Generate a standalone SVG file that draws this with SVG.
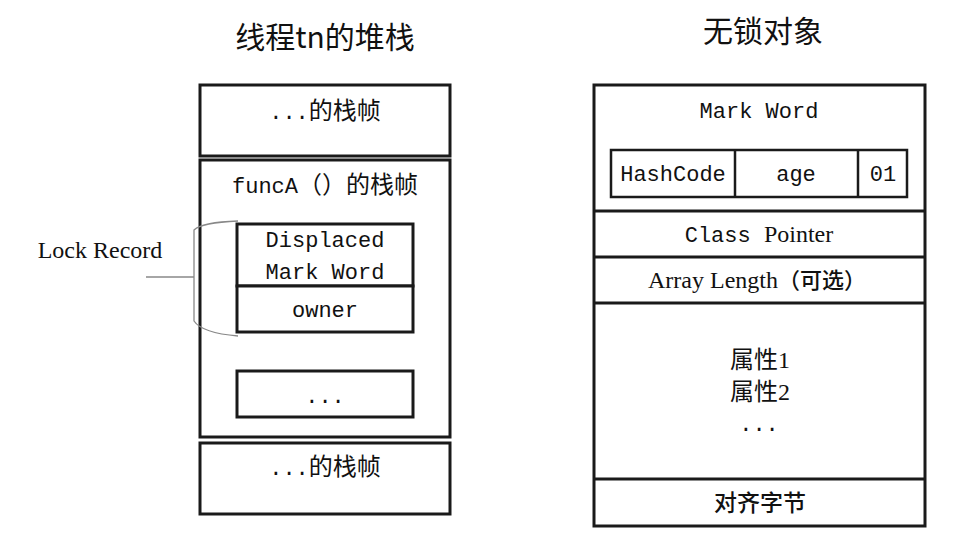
<svg xmlns="http://www.w3.org/2000/svg" width="966" height="540" viewBox="0 0 966 540">
<style>
.box{fill:#fff;stroke:#1a1a1a;stroke-width:3}
.ibox{fill:none;stroke:#1a1a1a;stroke-width:2.5}
.mono{font-family:"Liberation Mono","Noto Sans CJK SC",monospace;font-size:22px;fill:#111;text-anchor:middle}
.serif{font-family:"Liberation Serif","Noto Sans CJK SC",serif;font-size:24px;fill:#111;text-anchor:middle}
.title{font-family:"Noto Sans CJK SC",sans-serif;font-size:30px;fill:#111;text-anchor:middle}
.cjk{font-family:"Noto Sans CJK SC",sans-serif;font-size:24px;fill:#111}
.pad{font-family:"Noto Sans CJK SC",sans-serif;font-size:23px;font-weight:500;fill:#111;text-anchor:middle}
.thin{fill:none;stroke:#888;stroke-width:1.3}
</style>
<rect width="966" height="540" fill="#fff"/>
<text class="title" x="325" y="48">线程tn的堆栈</text>
<text class="title" x="763" y="42">无锁对象</text>

<g id="frame-top">
<rect class="box" x="200" y="85" width="250" height="71"/>
<text class="mono" x="325" y="119">...<tspan class="cjk">的栈帧</tspan></text>
</g>
<g id="frame-funcA">
<rect class="box" x="200" y="160" width="250" height="277"/>
<text class="mono" x="325" y="193">funcA<tspan class="cjk">（）的栈帧</tspan></text>
</g>
<g id="lock-record-displaced">
<rect class="box" x="237" y="224" width="176" height="62"/>
<text class="mono" x="325" y="247">Displaced</text>
<text class="mono" x="325" y="279">Mark Word</text>
</g>
<g id="lock-record-owner">
<rect class="box" x="237" y="286" width="176" height="46"/>
<text class="mono" x="325" y="317">owner</text>
</g>
<g id="frame-more">
<rect class="box" x="237" y="371" width="176" height="46"/>
<text class="mono" x="325" y="403">...</text>
</g>
<g id="frame-bottom">
<rect class="box" x="200" y="443" width="250" height="71"/>
<text class="mono" x="325" y="475">...<tspan class="cjk">的栈帧</tspan></text>
</g>

<g id="lock-record-label">
<text class="serif" x="100" y="258">Lock Record</text>
</g>
<g id="connectors">
<path class="thin" d="M238,221 C215,222 200,224 194,230 L194,321 C200,330 215,334 238,336"/>
<line class="thin" x1="146" y1="277" x2="194" y2="277"/>
</g>

<g id="object">
<rect class="box" x="594" y="85" width="331" height="441"/>
<line class="box" x1="594" y1="211" x2="925" y2="211"/>
<line class="box" x1="594" y1="257" x2="925" y2="257"/>
<line class="box" x1="594" y1="303" x2="925" y2="303"/>
<line class="box" x1="594" y1="479" x2="925" y2="479"/>
</g>
<g id="mark-word">
<text class="mono" x="759" y="118">Mark Word</text>
<rect class="ibox" x="611" y="150" width="296" height="47"/>
<line class="ibox" x1="735" y1="150" x2="735" y2="197"/>
<line class="ibox" x1="858" y1="150" x2="858" y2="197"/>
<text class="mono" x="673" y="181">HashCode</text>
<text class="mono" x="796" y="181">age</text>
<text class="mono" x="883" y="181">01</text>
</g>
<g id="class-pointer">
<text class="mono" x="759" y="242">Class <tspan style="font-family:'Liberation Serif',serif;font-size:24px">Pointer</tspan></text>
</g>
<g id="array-length">
<text class="serif" x="757" y="288">Array Length<tspan style="font-family:'Noto Sans CJK SC',sans-serif;font-size:22px;font-weight:500">（可选）</tspan></text>
</g>
<g id="fields">
<text class="serif" x="760" y="368">属性1</text>
<text class="serif" x="760" y="400">属性2</text>
<text class="mono" x="759" y="431">...</text>
</g>
<g id="padding">
<text class="pad" x="760" y="511">对齐字节</text>
</g>
</svg>
